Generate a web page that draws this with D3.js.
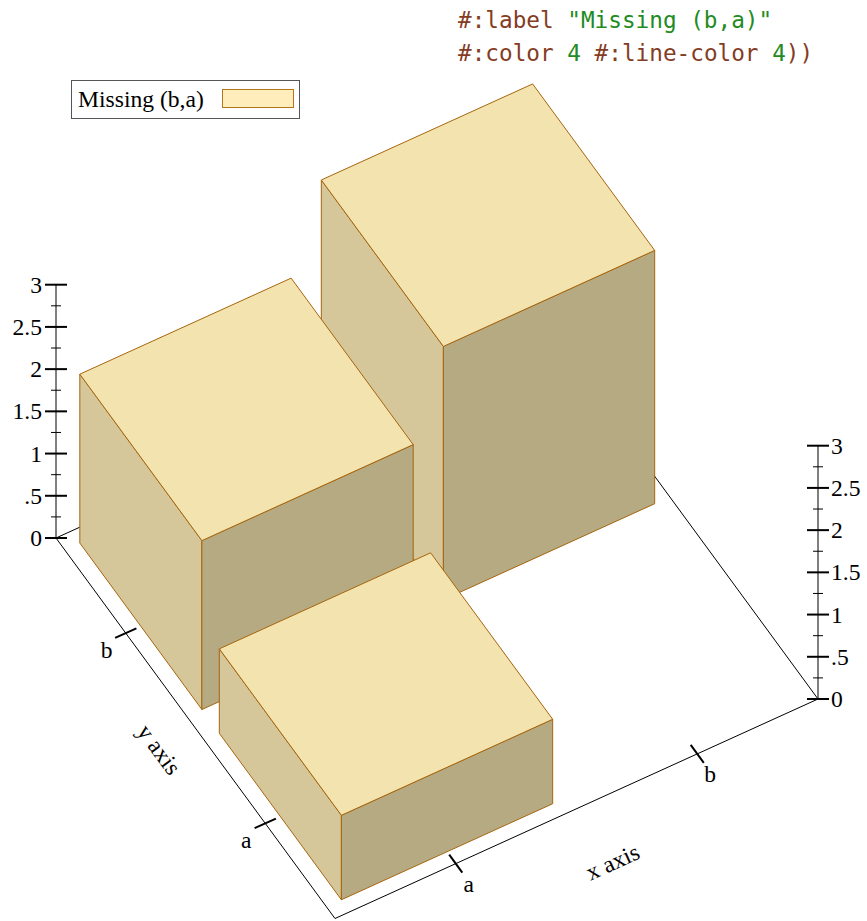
<!DOCTYPE html>
<html>
<head>
<meta charset="utf-8">
<script src="https://cdn.jsdelivr.net/npm/d3@7"></script>
<style>
  body { margin: 0; background: #fff; }
  svg { display: block; }
</style>
</head>
<body>
<svg id="chart" width="867" height="921"></svg>
<script>
// categories and values
const xCats = ["a", "b"];
const yCats = ["a", "b"];
const barX = ["a", "a", "b"];
const barY = ["a", "b", "b"];
const barH = [1, 2, 3];
const zTicks = [0, 0.5, 1, 1.5, 2, 2.5, 3];
const zTickLabels = ["0", ".5", "1", "1.5", "2", "2.5", "3"];
const zMinor = [0.25, 0.75, 1.25, 1.75, 2.25, 2.75];
const legendLabel = "Missing (b,a)";
const codeLines = [
    [["#:label ", "#843c24"], ["\"Missing (b,a)\"", "#228b22"]],
    [["#:color ", "#843c24"], ["4", "#228b22"], [" #:line-color ", "#843c24"], ["4", "#228b22"], ["))", "#843c24"]]
];

const serif = "'Liberation Serif', 'Times New Roman', serif";
const fontSize = "23.6px";
const svg = d3.select("#chart");

// band scales for the discrete axes (plot units 0..2)
let xs = d3.scaleBand().domain(xCats).range([0, 2]).paddingInner(0.125).paddingOuter(0.0625);
let ys = d3.scaleBand().domain(yCats).range([0, 2]).paddingInner(0.125).paddingOuter(0.0625);

// projection: plot units -> screen offsets
const origin = [335, 918.5];
let ux = d3.scaleLinear().domain([0, 2]).range([0, 483]);
let uy = d3.scaleLinear().domain([0, 2]).range([0, -219.5]);
let vx = d3.scaleLinear().domain([0, 2]).range([0, -279]);
let vy = d3.scaleLinear().domain([0, 2]).range([0, -380.5]);
let zz = d3.scaleLinear().domain([0, 3]).range([0, -253.3]);

function P(u, v, w) {
    return [origin[0] + ux(u) + vx(v), origin[1] + uy(u) + vy(v) + zz(w)];
}

function seg(a, b, width) {
    svg.append("line")
        .attr("x1", a[0]).attr("y1", a[1])
        .attr("x2", b[0]).attr("y2", b[1])
        .attr("stroke", "#000")
        .attr("stroke-width", width);
}

// back floor edges
seg(P(0, 2, 0), P(2, 2, 0), 1);
seg(P(2, 0, 0), P(2, 2, 0), 1);

// bars, farthest first
let bars = barX.map((c, i) => ({ x: c, y: barY[i], h: barH[i] }));
bars.sort((a, b) => (xs(b.x) + ys(b.y)) - (xs(a.x) + ys(a.y)));

const edge = "#a6650d";
bars.forEach(function(b) {
    let u0 = xs(b.x), u1 = u0 + xs.bandwidth();
    let v0 = ys(b.y), v1 = v0 + ys.bandwidth();
    let faces = [
        { pts: [P(u0, v0, 0), P(u0, v1, 0), P(u0, v1, b.h), P(u0, v0, b.h)], fill: "#d6c79b" },
        { pts: [P(u0, v0, 0), P(u1, v0, 0), P(u1, v0, b.h), P(u0, v0, b.h)], fill: "#b6aa83" },
        { pts: [P(u0, v0, b.h), P(u1, v0, b.h), P(u1, v1, b.h), P(u0, v1, b.h)], fill: "#f3e3af" }
    ];
    faces.forEach(function(f) {
        svg.append("polygon")
            .attr("points", f.pts.map(p => p.join(",")).join(" "))
            .attr("fill", f.fill)
            .attr("stroke", edge)
            .attr("stroke-width", 1)
            .attr("stroke-linejoin", "round");
    });
});

// front axes
seg(P(0, 0, 0), P(2, 0, 0), 1);
seg(P(0, 0, 0), P(0, 2, 0), 1);

// x axis ticks (drawn along y direction)
xCats.forEach(function(c) {
    let u = xs(c) + xs.bandwidth() / 2;
    seg(P(u, -0.047, 0), P(u, 0.047, 0), 2);
    let p = P(u, 0, 0);
    svg.append("text")
        .attr("x", p[0] + 13).attr("y", p[1] + 28)
        .attr("text-anchor", "middle")
        .style("font-family", serif).style("font-size", fontSize)
        .text(c);
});

// y axis ticks (drawn along x direction)
yCats.forEach(function(c) {
    let v = ys(c) + ys.bandwidth() / 2;
    seg(P(-0.044, v, 0), P(0.044, v, 0), 2);
    let p = P(0, v, 0);
    svg.append("text")
        .attr("x", p[0] - 19).attr("y", p[1] + 25)
        .attr("text-anchor", "middle")
        .style("font-family", serif).style("font-size", fontSize)
        .text(c);
});

// axis titles
let xt = P(1, 0, 0);
svg.append("text")
    .attr("transform", `translate(${xt[0] + 36},${xt[1] + 53}) rotate(-24.4)`)
    .attr("text-anchor", "middle")
    .attr("dy", "0.35em")
    .style("font-family", serif).style("font-size", fontSize)
    .text("x axis");
let yt = P(0, 1, 0);
svg.append("text")
    .attr("transform", `translate(${yt[0] - 36},${yt[1] + 21}) rotate(53.7)`)
    .attr("text-anchor", "middle")
    .attr("dy", "0.35em")
    .style("font-family", serif).style("font-size", fontSize)
    .text("y axis");

// z axes: left at (0,2), right at (2,0)
function zAxis(u, v, side) {
    seg(P(u, v, 0), P(u, v, 3), 1);
    zMinor.forEach(function(t) {
        let p = P(u, v, t);
        seg([p[0] - 5, p[1]], [p[0] + 5, p[1]], 1);
    });
    zTicks.forEach(function(t, i) {
        let p = P(u, v, t);
        seg([p[0] - 11, p[1]], [p[0] + 11, p[1]], 2);
        svg.append("text")
            .attr("x", side < 0 ? p[0] - 14 : p[0] + 13)
            .attr("y", p[1] + 8)
            .attr("text-anchor", side < 0 ? "end" : "start")
            .style("font-family", serif).style("font-size", fontSize)
            .text(zTickLabels[i]);
    });
}
zAxis(0, 2, -1);
zAxis(2, 0, 1);

// legend
svg.append("rect")
    .attr("x", 71.5).attr("y", 80.5).attr("width", 228).attr("height", 38)
    .attr("fill", "#fff").attr("stroke", "#555").attr("stroke-width", 1);
svg.append("text")
    .attr("x", 78).attr("y", 107)
    .style("font-family", serif).style("font-size", fontSize)
    .text(legendLabel);
svg.append("rect")
    .attr("x", 222.5).attr("y", 89.5).attr("width", 71).attr("height", 18)
    .attr("fill", "#ffedbb").attr("stroke", "#b8731e").attr("stroke-width", 1);

// code snippet at top
codeLines.forEach(function(line, i) {
    let t = svg.append("text")
        .attr("x", 458).attr("y", 28 + i * 33)
        .attr("xml:space", "preserve")
        .style("font-family", "'DejaVu Sans Mono', monospace")
        .style("font-size", "22.7px")
        .style("white-space", "pre");
    line.forEach(function(part) {
        t.append("tspan").attr("fill", part[1]).text(part[0]);
    });
});
</script>
</body>
</html>
